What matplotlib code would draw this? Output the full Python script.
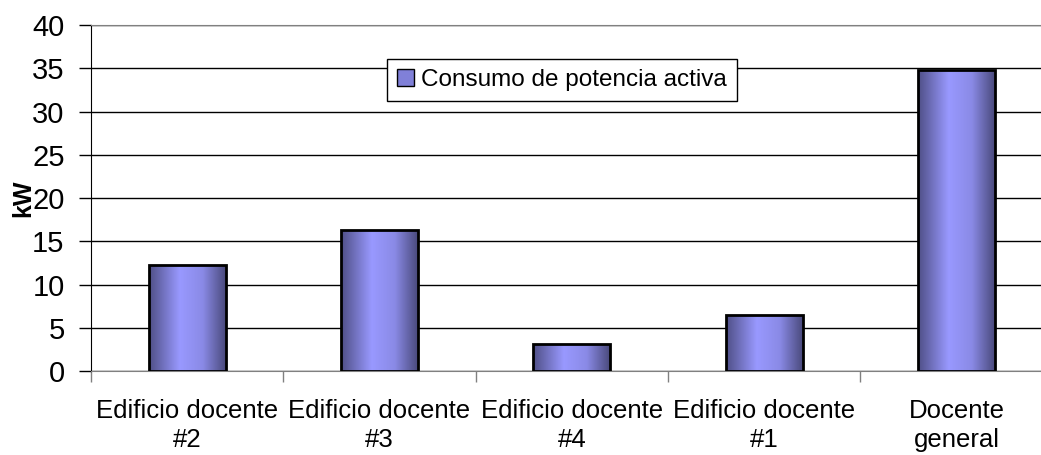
import numpy as np
from matplotlib import pyplot as plt
from matplotlib.colors import LinearSegmentedColormap
from matplotlib.patches import Patch

plt.rcParams['font.family'] = ['Liberation Sans', 'DejaVu Sans']

# Data
categories = ['Edificio docente\n#2', 'Edificio docente\n#3', 'Edificio docente\n#4',
              'Edificio docente\n#1', 'Docente\ngeneral']
potencia = [12.3, 16.3, 3.1, 6.5, 34.8]
serie = 'Consumo de potencia activa'

fig = plt.figure(figsize=(10.41, 4.55), dpi=100)
ax = fig.add_axes([0.0874, 0.1846, 0.924, 0.7604])

x = np.arange(len(categories))
bars = ax.bar(x, potencia, width=0.4, color='none', edgecolor='black', linewidth=2, zorder=3)

# horizontal gradient inside each bar
cmap = LinearSegmentedColormap.from_list('barg', [(0.0, '#4f4f86'), (0.4, '#9999ff'),
                                                  (0.7, '#8a8ae6'), (1.0, '#4a4a7c')])
grad = np.linspace(0, 1, 256).reshape(1, -1)
for b in bars:
    x0 = b.get_x()
    w = b.get_width()
    h = b.get_height()
    im = ax.imshow(grad, cmap=cmap, aspect='auto', extent=(x0, x0 + w, 0, h),
                   zorder=2, interpolation='bicubic')
    im.set_clip_path(b)

ax.set_xlim(-0.5, len(categories) - 0.5)
ax.set_ylim(0, 40)
ax.set_yticks(np.arange(0, 41, 5))
ax.yaxis.grid(True, color='black', linewidth=1)
ax.set_axisbelow(True)

ax.set_xticks(x)
ax.set_xticklabels(categories, fontsize=18.5, linespacing=1.3)
ax.set_xticks(np.arange(-0.5, len(categories)), minor=True)
ax.tick_params(axis='x', which='major', length=0, pad=20)
ax.tick_params(axis='x', which='minor', length=8, color='#808080', width=1)
ax.tick_params(axis='y', labelsize=21, length=9, width=1, pad=10)

for s in ['top', 'bottom', 'right']:
    ax.spines[s].set_color('#808080')
ax.spines['left'].set_color('black')

ax.set_ylabel('kW', fontsize=18, fontweight='bold', labelpad=-2)

h = Patch(facecolor='#8080d8', edgecolor='black', linewidth=1)
leg = ax.legend([h], [serie], loc='center', bbox_to_anchor=(0.4896, 0.841), fontsize=17.5,
                frameon=True, fancybox=False, edgecolor='black', framealpha=1,
                handlelength=0.7, handleheight=0.7, handletextpad=0.3, borderpad=0.4)
leg.get_frame().set_linewidth(1)

plt.savefig('out.png', dpi=100)
